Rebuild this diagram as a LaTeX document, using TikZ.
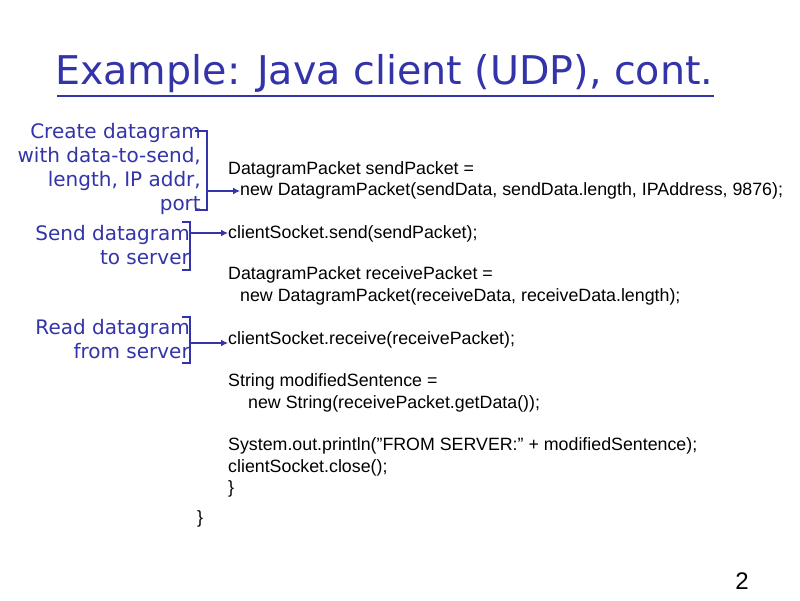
\documentclass[tikz,border=0pt]{standalone}
\usepackage{fontspec}
\setmainfont{Liberation Sans}
\newfontfamily\dvs{DejaVu Sans}
\usetikzlibrary{arrows.meta}
\definecolor{tblue}{RGB}{51,51,170}
\tikzset{
  code/.style={anchor=west,inner sep=0pt,font=\fontsize{17.8}{20}\selectfont},
  lbl/.style={anchor=east,align=right,inner sep=0pt,text=tblue,font=\dvs\fontsize{20}{24}\selectfont},
  brk/.style={draw=tblue,line width=1.5pt},
  arr/.style={draw=tblue,line width=1.5pt,-{Latex[length=7pt,width=7pt]}}
}
\begin{document}
\begin{tikzpicture}[x=1pt,y=-1pt]
\useasboundingbox (0,0) rectangle (800,600);
\node[anchor=west,inner sep=0pt,text=tblue,font=\dvs\fontsize{39.6}{44}\selectfont] (title) at (55,74) {Example: Java client (UDP), cont.};
\draw[tblue,line width=2pt] (title.south west)++(2,3) coordinate (u1) -- (u1 -| title.south east);
\node[lbl] (l1) at (201,169) {Create datagram\\with data-to-send,\\length, IP addr,\\port};
\node[lbl] (l2) at (190,245) {Send datagram\\to server};
\node[lbl] (l3) at (190,339) {Read datagram\\from server};
\node[code] (c1) at (228,170) {DatagramPacket sendPacket =};
\node[code] (c2) at (240,191) {new DatagramPacket(sendData, sendData.length, IPAddress, 9876);};
\node[code] (c3) at (228,234) {clientSocket.send(sendPacket);};
\node[code] (c4) at (228,275) {DatagramPacket receivePacket =};
\node[code] (c5) at (240,297) {new DatagramPacket(receiveData, receiveData.length);};
\node[code] (c6) at (228,340) {clientSocket.receive(receivePacket);};
\node[code] (c7) at (228,382) {String modifiedSentence =};
\node[code] (c8) at (248,404) {new String(receivePacket.getData());};
\node[code] (c9) at (228,446) {System.out.println("FROM SERVER:" + modifiedSentence);};
\node[code] (c10) at (228,468) {clientSocket.close();};
\node[code] (c11) at (228,489) {\}};
\node[code] (c12) at (197,519) {\}};
\node[anchor=east,inner sep=0pt,font=\fontsize{24}{26}\selectfont] (pg) at (749,581) {2};
\coordinate (b1) at (207,191);
\coordinate (b2) at (190,233);
\coordinate (b3) at (190,343);
\draw[brk] (195,131) -- (207,131) -- (207,210) -- (195,210);
\draw[brk] (182,222) -- (190,222) -- (190,270) -- (182,270);
\draw[brk] (182,317) -- (190,317) -- (190,363) -- (182,363);
\draw[arr] (b1) -- (b1 -| c2.west);
\draw[arr] (b2) -- (b2 -| c3.west);
\draw[arr] (b3) -- (b3 -| c6.west);
\end{tikzpicture}
\end{document}
